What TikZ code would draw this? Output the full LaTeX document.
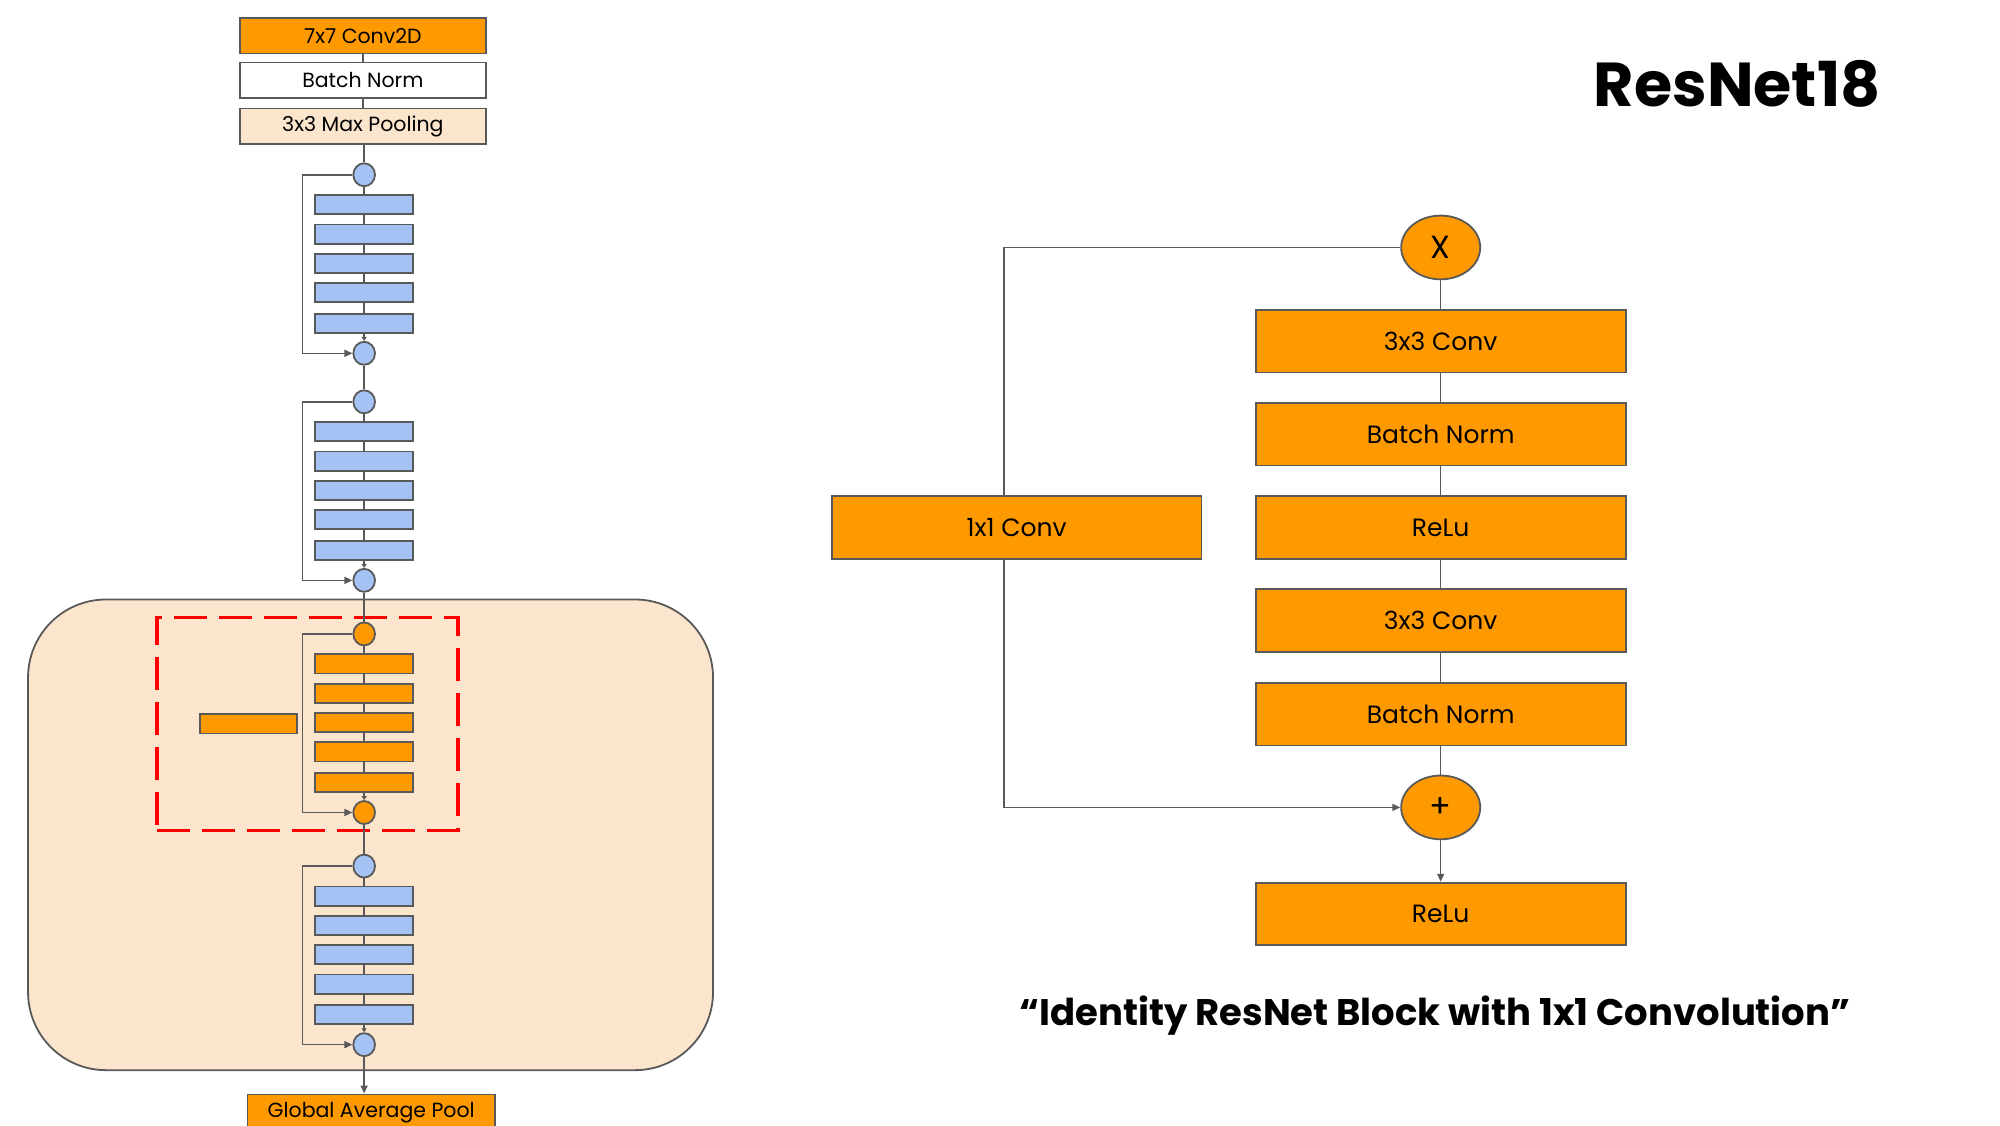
\documentclass[tikz,border=0pt]{standalone}
\usepackage{fontspec}
\setmainfont{Poppins}
\usetikzlibrary{arrows.meta,shapes.geometric,calc}
\definecolor{gorange}{HTML}{FF9900}
\definecolor{gblue}{HTML}{A4C2F4}
\definecolor{gpeach}{HTML}{FCE5CD}
\definecolor{gline}{HTML}{595959}
\definecolor{gred}{HTML}{FF0000}
\def\sx{1.2755}
\def\sy{1.2755}
\tikzset{
  lbox/.style={draw=gline, line width=1.8pt, rectangle, minimum width=193*\sx*1pt, minimum height=28*\sy*1pt, inner sep=0pt, font=\fontsize{20.5}{23}\selectfont},
  blk/.style={draw=gline, line width=1.8pt, rectangle, fill=gblue, minimum width=77*\sx*1pt, minimum height=15*\sy*1pt, inner sep=0pt},
  oblk/.style={blk, fill=gorange},
  dot/.style={draw=gline, line width=1.8pt, ellipse, fill=gblue, minimum width=17*\sx*1pt, minimum height=18*\sy*1pt, inner sep=0pt},
  odot/.style={dot, fill=gorange},
  rbox/.style={draw=gline, line width=1.8pt, rectangle, fill=gorange, minimum width=290*\sx*1pt, minimum height=49*\sy*1pt, inner sep=0pt, font=\fontsize{25}{28}\selectfont},
  rdot/.style={draw=gline, line width=1.8pt, ellipse, fill=gorange, minimum width=62*\sx*1pt, minimum height=50*\sy*1pt, inner sep=0pt, font=\fontsize{32}{34}\selectfont},
  conn/.style={draw=gline, line width=1.5pt},
  arr/.style={conn, -{Triangle[length=8pt,width=7pt]}},
}
\begin{document}
\begin{tikzpicture}[x=1.2755pt, y=-1.2755pt]
\useasboundingbox (0,0) rectangle (1568,882);
% big rounded background
\node[draw=gline, line width=1.8pt, fill=gpeach, rounded corners=78pt, minimum width=537*\sx*1pt, minimum height=369*\sy*1pt, inner sep=0pt] (bg) at (290.5,654.5) {};
% red dashed box
\node[draw=gred, line width=3.5pt, dash pattern=on 33pt off 12pt, minimum width=236*\sx*1pt, minimum height=167*\sy*1pt, inner sep=0pt] (red) at (241,567.5) {};

% stem
\node[lbox, fill=gorange] (c7) at (284.5,28) {7x7 Conv2D};
\node[lbox, fill=white] (bn0) at (284.5,63) {Batch Norm};
\node[lbox, fill=gpeach] (mp) at (284.5,99) {3x3 Max Pooling};
\draw[conn] (c7) -- (bn0);
\draw[conn] (bn0) -- (mp);

% stage 1
\node[dot] (a0) at (285.5,137) {};
\node[blk] (a1) at (285.5,160.5) {};
\node[blk] (a2) at (285.5,183.5) {};
\node[blk] (a3) at (285.5,206.5) {};
\node[blk] (a4) at (285.5,229.5) {};
\node[blk] (a5) at (285.5,253.5) {};
\node[dot] (a6) at (285.5,277) {};
% stage 2
\node[dot] (b0) at (285.5,315) {};
\node[blk] (b1) at (285.5,338.5) {};
\node[blk] (b2) at (285.5,361.5) {};
\node[blk] (b3) at (285.5,384.5) {};
\node[blk] (b4) at (285.5,407.5) {};
\node[blk] (b5) at (285.5,431.5) {};
\node[dot] (b6) at (285.5,455) {};
% stage 3 (orange)
\node[odot] (d0) at (285.5,497) {};
\node[oblk] (d1) at (285.5,520.5) {};
\node[oblk] (d2) at (285.5,543.5) {};
\node[oblk] (d3) at (285.5,566.5) {};
\node[oblk] (d4) at (285.5,589.5) {};
\node[oblk] (d5) at (285.5,613.5) {};
\node[odot] (d6) at (285.5,637) {};
\node[oblk, minimum width=76*\sx*1pt] (dx) at (195,567.5) {};
% stage 4
\node[dot] (e0) at (285.5,679) {};
\node[blk] (e1) at (285.5,702.5) {};
\node[blk] (e2) at (285.5,725.5) {};
\node[blk] (e3) at (285.5,748.5) {};
\node[blk] (e4) at (285.5,771.5) {};
\node[blk] (e5) at (285.5,795.5) {};
\node[dot] (e6) at (285.5,819) {};

\node[lbox, fill=gorange, minimum width=194*\sx*1pt] (gap) at (291,872) {Global Average Pool};

% connectors left
\draw[conn] (a0 |- mp.south) -- (a0);
\foreach \s in {a,b,d,e}{
  \draw[conn] (\s0) -- (\s1);
  \draw[conn] (\s1) -- (\s2);
  \draw[conn] (\s2) -- (\s3);
  \draw[conn] (\s3) -- (\s4);
  \draw[conn] (\s4) -- (\s5);
  \draw[conn, -{Triangle[length=4pt,width=5pt]}] (\s5) -- (\s6);
  \coordinate (k\s) at ($(\s0)+(-48.5,0)$);
  \draw[arr] (\s0.west) -- (k\s) |- (\s6.west);
}
\draw[conn] (a6) -- (b0);
\draw[conn] (b6) -- (d0);
\draw[conn] (d6) -- (e0);
\draw[arr] (e6) -- (e6 |- gap.north);

% right diagram
\node[rdot] (x) at (1129.5,194) {X};
\node[rbox] (r1) at (1129.5,267.5) {3x3 Conv};
\node[rbox] (r2) at (1129.5,340.5) {Batch Norm};
\node[rbox] (r3) at (1129.5,413.5) {ReLu};
\node[rbox] (r4) at (1129.5,486.5) {3x3 Conv};
\node[rbox] (r5) at (1129.5,560) {Batch Norm};
\node[rdot] (plus) at (1129.5,633) {+};
\node[rbox] (r6) at (1129.5,716.5) {ReLu};
\node[rbox] (one) at (797,413.5) {1x1 Conv};
\coordinate (sk) at (787,194);
\draw[conn] (x) -- (r1);
\draw[conn] (r1) -- (r2);
\draw[conn] (r2) -- (r3);
\draw[conn] (r3) -- (r4);
\draw[conn] (r4) -- (r5);
\draw[conn] (r5) -- (plus);
\draw[arr] (plus) -- (r6);
\draw[conn] (x.west) -- (sk) -- (sk |- one.north);
\draw[arr] (sk |- one.south) |- (plus.west);

\node[font=\fontsize{62}{70}\bfseries] (title) at (1362,66) {ResNet18};
\node[font=\fontsize{37}{42}\bfseries] (cap) at (1125,796) {“Identity ResNet Block with 1x1 Convolution”};
\end{tikzpicture}
\end{document}
